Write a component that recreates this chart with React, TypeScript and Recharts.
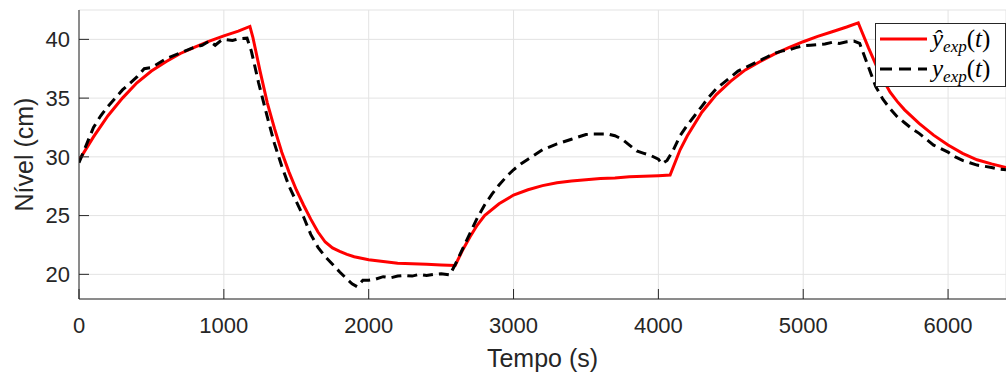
import { LineChart, Line, XAxis, YAxis, CartesianGrid } from 'recharts';

// model output ŷ_exp(t)
const modelTime = [
  0, 100, 200, 300, 400, 500, 600, 700, 800, 900, 1000, 1100, 1180,
  1200, 1250, 1300, 1350, 1400, 1450, 1500, 1550, 1600, 1650, 1700, 1750, 1800, 1850, 1900,
  2000, 2100, 2200, 2300, 2400, 2500, 2597, 2650, 2700, 2750, 2800, 2900,
  3000, 3100, 3200, 3300, 3400, 3500, 3600, 3700, 3800, 3900, 4000, 4081,
  4150, 4200, 4300, 4400, 4500, 4600, 4700, 4800, 4900, 5000, 5100, 5200,
  5300, 5380, 5400, 5450, 5500, 5550, 5600, 5650, 5700, 5800, 5900, 6000, 6100,
  6200, 6300, 6400,
];
const modelLevel = [
  29.7, 31.7, 33.5, 35.0, 36.3, 37.3, 38.1, 38.8, 39.35, 39.85, 40.3, 40.7, 41.1,
  40.2, 37.3, 34.6, 32.4, 30.4, 28.7, 27.2, 25.9, 24.7, 23.6, 22.75, 22.25, 21.95, 21.7, 21.5,
  21.25, 21.1, 20.95, 20.9, 20.85, 20.8, 20.75, 22.1, 23.2, 24.2, 25.0, 26.0,
  26.75, 27.2, 27.55, 27.8, 27.95, 28.05, 28.15, 28.2, 28.3, 28.35, 28.4, 28.45,
  30.6, 31.8, 33.8, 35.3, 36.45, 37.4, 38.1, 38.75, 39.3, 39.8, 40.25, 40.65,
  41.05, 41.4, 40.8, 39.3, 37.9, 36.6, 35.5, 34.7, 34.0, 32.85, 31.85, 31.0, 30.3,
  29.75, 29.4, 29.1,
];

// measured level y_exp(t)
const measTime = [
  0, 50, 100, 150, 200, 300, 400, 450, 500, 600, 700, 800, 850, 900, 940, 980,
  1000, 1060, 1100, 1160, 1190, 1240, 1300, 1350, 1400, 1450, 1500, 1550, 1600,
  1650, 1700, 1755, 1800, 1850, 1885, 1920, 1960, 2000, 2050, 2100, 2150, 2200,
  2250, 2300, 2350, 2400, 2450, 2500, 2560, 2600, 2650, 2700, 2750, 2800, 2850,
  2900, 2950, 3000, 3050, 3100, 3150, 3200, 3300, 3400, 3500, 3550, 3650, 3700,
  3750, 3800, 3850, 3900, 3950, 4000, 4025, 4060, 4100, 4150, 4200, 4250, 4300,
  4350, 4400, 4450, 4500, 4550, 4600, 4650, 4700, 4750, 4800, 4850, 4900, 4950,
  5000, 5050, 5100, 5150, 5200, 5250, 5300, 5350, 5390, 5440, 5500, 5550, 5600,
  5650, 5700, 5750, 5800, 5850, 5900, 5950, 6000, 6050, 6100, 6150, 6200, 6250,
  6300, 6350, 6400,
];
const measLevel = [
  29.5, 31.0, 32.5, 33.5, 34.3, 35.7, 36.8, 37.5, 37.6, 38.35, 38.85, 39.35, 39.5, 39.85, 39.5, 39.9,
  40.0, 39.9, 40.05, 40.1, 39.0, 36.3, 33.4, 31.1, 29.2, 27.5, 26.2, 24.9, 23.4,
  22.3, 21.5, 20.8, 20.2, 19.6, 19.2, 18.95, 19.5, 19.5, 19.6, 19.8, 19.7, 19.85,
  19.9, 19.85, 20.0, 19.9, 20.0, 20.05, 19.95, 20.9, 22.2, 23.5, 24.8, 25.9, 26.8,
  27.6, 28.3, 28.9, 29.4, 29.8, 30.2, 30.6, 31.1, 31.5, 31.9, 31.95, 31.95, 31.8,
  31.5, 31.0, 30.5, 30.3, 30.1, 29.8, 29.4, 29.7, 30.5, 31.8, 32.7, 33.5, 34.3,
  35.1, 35.8, 36.3, 36.8, 37.3, 37.6, 37.9, 38.2, 38.5, 38.8, 39.0, 39.1, 39.3,
  39.45, 39.5, 39.55, 39.6, 39.75, 39.65, 39.8, 39.85, 39.65, 38.0, 36.0, 34.9, 34.1,
  33.4, 32.9, 32.4, 32.0, 31.5, 31.0, 30.7, 30.4, 30.0, 29.7, 29.5, 29.3, 29.2,
  29.1, 28.95, 28.9,
];

const xTicks = [0, 1000, 2000, 3000, 4000, 5000, 6000];
const yTicks = [20, 25, 30, 35, 40];

const modelData = modelTime.map((t, i) => ({ t, y: modelLevel[i] }));
const measData = measTime.map((t, i) => ({ t, y: measLevel[i] }));

const AX = '#262626';
const FONT = '"Liberation Sans", Arial, Helvetica, sans-serif';
const MATH = '"Liberation Serif", "Times New Roman", serif';

function MathLabel({ hat }: { hat: boolean }) {
  return (
    <>
      <tspan fontStyle="italic">{hat ? 'ŷ' : 'y'}</tspan>
      <tspan fontStyle="italic" fontSize={17} dy={5}>exp</tspan>
      <tspan dy={-5}>(</tspan>
      <tspan fontStyle="italic">t</tspan>
      <tspan>)</tspan>
    </>
  );
}

// legend drawn as an overlay so it does not eat into the plot area
function LegendBox() {
  return (
    <svg width={131} height={64} style={{ position: 'absolute', left: 875, top: 23, display: 'block' }}>
      <rect x={0.5} y={0.5} width={130} height={63} fill="#fff" stroke={AX} strokeWidth={1} />
      <line x1={5} x2={52} y1={16} y2={16} stroke="#ff0000" strokeWidth={3} />
      <line x1={5} x2={52} y1={46} y2={46} stroke="#000" strokeWidth={3} strokeDasharray="12 7" />
      <text x={57} y={24} fontFamily={MATH} fontSize={25} fill="#000">
        <MathLabel hat />
      </text>
      <text x={57} y={54} fontFamily={MATH} fontSize={25} fill="#000">
        <MathLabel hat={false} />
      </text>
    </svg>
  );
}

export default function App() {
  return (
    <div style={{ position: 'absolute', left: 0, top: 0, width: 1006, height: 372, background: '#fff' }}>
      <LineChart width={1006} height={372} margin={{ top: 10, right: 0, bottom: 0, left: 0 }}>
        <CartesianGrid stroke="#e3e3e3" strokeWidth={1} />
        <XAxis
          dataKey="t"
          type="number"
          domain={[0, 6400]}
          ticks={xTicks}
          allowDataOverflow
          height={73}
          stroke={AX}
          tickSize={-10}
          tickMargin={28}
          tick={{ fill: AX, fontSize: 22, fontFamily: FONT }}
          label={{ value: 'Tempo (s)', position: 'insideBottom', offset: 5, fill: AX, fontSize: 25, fontFamily: FONT }}
        />
        <YAxis
          type="number"
          domain={[17.9, 42.5]}
          ticks={yTicks}
          allowDataOverflow
          width={79}
          stroke={AX}
          tickSize={-10}
          tickMargin={19}
          tick={{ fill: AX, fontSize: 22, fontFamily: FONT }}
          label={{
            value: 'Nível (cm)',
            angle: -90,
            position: 'insideLeft',
            offset: 24,
            fill: AX,
            fontSize: 25,
            fontFamily: FONT,
            style: { textAnchor: 'middle' },
          }}
        />
        <Line
          data={modelData}
          dataKey="y"
          type="linear"
          stroke="#ff0000"
          strokeWidth={3}
          dot={false}
          activeDot={false}
          isAnimationActive={false}
        />
        <Line
          data={measData}
          dataKey="y"
          type="linear"
          stroke="#000000"
          strokeWidth={3}
          strokeDasharray="10 6"
          dot={false}
          activeDot={false}
          isAnimationActive={false}
        />
      </LineChart>
      <LegendBox />
    </div>
  );
}
